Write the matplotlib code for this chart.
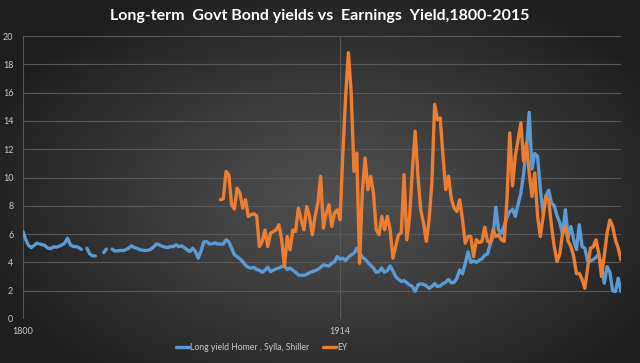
import numpy as np
import matplotlib
matplotlib.use("Agg")
import matplotlib.pyplot as plt

# long-term government bond yield (Homer, Sylla, Shiller), 1800-2015
bond_years = np.arange(1800, 2016)
bond_1800_1870 = [
    6.18, 5.6, 5.2, 5.05, 5.2, 5.36, 5.3, 5.25, 5.17, 5.0,
    4.98, 5.1, 5.08, 5.15, 5.24, 5.36, 5.71, 5.25, 5.12, 5.12,
    5.05, 4.92, np.nan, 5.0, 4.6, 4.47, 4.46, np.nan, np.nan, 4.7,
    4.94, np.nan, 4.94, 4.8, 4.82, 4.84, 4.84, 4.9, 5.0, 5.17,
    5.05, 5.0, 4.9, 4.86, 4.84, 4.86, 4.93, 5.1, 5.31, 5.24,
    5.15, 5.08, 5.05, 5.12, 5.12, 5.24, 5.12, 5.17, 5.05, 4.89,
    4.77, 5.0, 4.77, 4.3, 4.8, 5.45, 5.48, 5.3, 5.31, 5.38,
    5.3,
]
bond_1871_2015 = [
    5.3, 5.3, 5.6, 5.45, 5.0, 4.55, 4.4, 4.25, 4.05,
    3.8, 3.65, 3.6, 3.65, 3.5, 3.45, 3.3, 3.45, 3.65, 3.35,
    3.45, 3.55, 3.6, 3.7, 3.75, 3.5, 3.6, 3.45, 3.3, 3.12,
    3.08, 3.1, 3.15, 3.28, 3.35, 3.42, 3.5, 3.65, 3.82, 3.78,
    3.75, 3.94, 4.06, 4.41, 4.23, 4.3, 4.13, 4.37, 4.53, 4.65,
    5.0, 4.65, 4.37, 4.23, 3.99, 3.8, 3.6, 3.3, 3.35, 3.6,
    3.3, 3.42, 3.75, 3.4, 3.0, 2.8, 2.65, 2.71, 2.55, 2.4,
    2.29, 1.95, 2.41, 2.48, 2.45, 2.35, 2.17, 2.29, 2.5, 2.3,
    2.34, 2.5, 2.6, 2.8, 2.55, 2.6, 2.88, 3.47, 3.19, 3.94,
    4.75, 4.0, 4.1, 4.0, 4.15, 4.25, 4.5, 4.6, 5.3, 5.85,
    7.9, 6.3, 6.05, 6.6, 7.2, 7.6, 7.75, 7.25, 8.1, 8.9,
    10.3, 12.0, 14.6, 10.6, 11.7, 11.5, 9.2, 7.4, 8.7, 9.1,
    8.2, 8.0, 7.3, 6.8, 6.0, 7.72, 5.75, 6.54, 5.6, 4.9,
    6.66, 5.12, 5.0, 4.1, 4.1, 4.2, 4.35, 4.6, 3.7, 2.53,
    3.7, 3.3, 2.0, 1.94, 2.88, 1.94,
]
bond_yield = bond_1800_1870 + bond_1871_2015

# earnings yield (EY), 1871-2015
ey_years = np.arange(1871, 2016)
ey = [
    8.43, 8.5, 10.43, 10.2, 8.07, 7.77, 9.25, 8.9, 7.84,
    8.43, 7.25, 7.37, 7.44, 7.29, 5.12, 5.48, 6.3, 5.12, 6.07,
    6.18, 6.3, 6.66, 5.6, 3.7, 5.83, 4.89, 6.3, 6.18, 7.84,
    7.01, 6.3, 7.95, 7.25, 5.95, 7.25, 8.19, 10.08, 6.42, 7.48,
    8.07, 6.54, 7.48, 7.72, 7.01, 11.73, 15.75, 18.82, 15.98, 10.43,
    11.73, 3.94, 9.0, 11.38, 9.14, 10.08, 8.9, 6.3, 5.95, 7.25,
    6.3, 7.25, 6.3, 4.3, 5.12, 5.95, 6.07, 10.2, 5.6, 7.25,
    10.55, 13.27, 10.08, 7.72, 6.78, 5.48, 7.01, 9.61, 15.16, 14.09,
    14.21, 11.5, 9.14, 10.08, 8.5, 7.84, 7.6, 8.43, 7.01, 5.36,
    5.83, 5.83, 4.41, 5.6, 5.4, 5.48, 6.5, 5.5, 5.36, 6.3,
    5.83, 5.95, 5.6, 5.48, 8.43, 13.15, 9.4, 11.5, 12.68, 13.86,
    11.14, 12.44, 10.32, 8.66, 10.32, 7.25, 5.83, 7.25, 8.66, 8.43,
    6.6, 5.12, 4.06, 4.6, 6.07, 6.54, 5.5, 5.12, 4.41, 3.2,
    3.23, 2.8, 2.17, 3.6, 5.0, 5.1, 5.6, 4.65, 3.0, 4.5,
    6.07, 7.0, 6.54, 5.6, 5.0, 4.18,
]

y_ticks = np.arange(0, 21, 2)
x_tick_years = [1800, 1914]

blue = "#5b9bd5"
orange = "#ed7d31"
text_grey = "#c9c9c9"
font = "Lato"

fig = plt.figure(figsize=(6.4, 3.63), dpi=100)

# radial dark-grey background
bg = fig.add_axes([0, 0, 1, 1], zorder=-10)
gx, gy = np.meshgrid(np.linspace(-1, 1, 640), np.linspace(-1, 1, 363))
r = np.clip(np.sqrt(((gx - 0.05) / 1.15) ** 2 + ((gy - 0.1) / 1.25) ** 2), 0, 1)
shade = 0.31 - 0.19 * r ** 1.2
bg.imshow(np.dstack([shade, shade, shade]), aspect="auto", extent=[0, 1, 0, 1])
bg.axis("off")

ax = fig.add_axes([23 / 640, 1 - 319 / 363, 598 / 640, 283 / 363])
ax.set_facecolor("none")

ax.plot(bond_years, bond_yield, color=blue, lw=2.4, label="Long yield Homer , Sylla, Shiller",
        solid_joinstyle="round", solid_capstyle="round")
ax.plot(ey_years, ey, color=orange, lw=2.4, label="EY",
        solid_joinstyle="round", solid_capstyle="round")

ax.set_xlim(1800, 2015)
ax.set_ylim(0, 20)
ax.set_yticks(y_ticks)
ax.set_yticklabels([str(v) for v in y_ticks], fontsize=6.5, color=text_grey, family=font)
ax.set_xticks(x_tick_years)
ax.set_xticklabels([str(v) for v in x_tick_years], fontsize=6.5, color=text_grey, family=font)
ax.tick_params(length=0, axis="y", pad=7)
ax.tick_params(length=0, axis="x", pad=6)
ax.grid(True, color="#585858", lw=0.8)
ax.set_axisbelow(True)
for s in ax.spines.values():
    s.set_visible(False)

fig.text(0.5, 1 - 16 / 363, "Long-term  Govt Bond yields vs  Earnings  Yield,1800-2015",
         ha="center", va="center", color="white", fontsize=11.5, fontweight="bold",
         family=font)

leg = fig.legend(loc="center", bbox_to_anchor=(262 / 640, 1 - 348 / 363), ncol=2, frameon=False,
                 fontsize=6.2, handlelength=1.5, columnspacing=1.6, handletextpad=0.15,
                 borderpad=0.1)
for t in leg.get_texts():
    t.set_color(text_grey)
    t.set_family(font)

fig.savefig("out.png", dpi=100)
